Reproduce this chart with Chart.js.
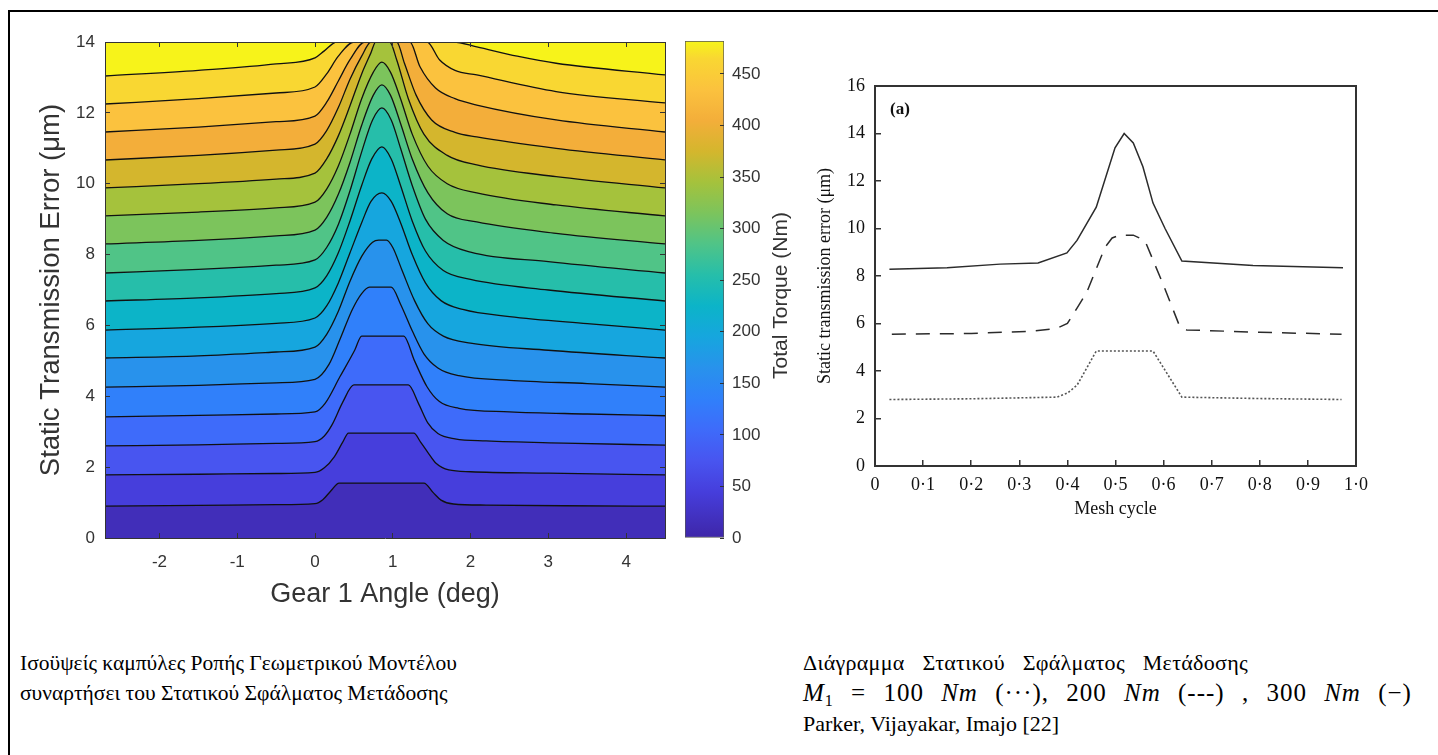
<!DOCTYPE html>
<html>
<head>
<meta charset="utf-8">
<script src="https://cdn.jsdelivr.net/npm/chart.js@4.4.1/dist/chart.umd.min.js"></script>
<style>
  body { margin: 0; background: #fff; }
  #page { position: relative; width: 1438px; height: 755px; overflow: hidden; background: #fff; }
  .frame { position: absolute; left: 8px; top: 10px; width: 1500px; height: 800px; border-top: 2px solid #000; border-left: 2px solid #000; }
  canvas { position: absolute; }
  .caption { position: absolute; font-family: "Liberation Serif", "Times New Roman", serif; font-size: 21.5px; line-height: 30px; color: #000; white-space: nowrap; }
  .caption .wide { word-spacing: 12px; letter-spacing: 0.3px; font-size: 22px; }
  .caption .math { word-spacing: 10px; letter-spacing: 1px; font-size: 25px; }
  .caption .ref { font-size: 22px; }
  .caption sub { font-size: 16px; line-height: 0; vertical-align: -5px; }
</style>
</head>
<body>
<div id="page">
  <div class="frame"></div>
  <canvas id="contour" width="680" height="620" style="left:0;top:0"></canvas>
  <canvas id="colorbar" width="120" height="620" style="left:680px;top:0"></canvas>
  <canvas id="profile" width="658" height="560" style="left:780px;top:0"></canvas>
  <div class="caption" style="left:20px;top:648px">Ισοϋψείς καμπύλες Ροπής Γεωμετρικού Μοντέλου<br>συναρτήσει του Στατικού Σφάλματος Μετάδοσης</div>
  <div class="caption" style="left:803px;top:648px"><span class="wide">Διάγραμμα Στατικού Σφάλματος Μετάδοσης</span><br><span class="math"><i>M</i><sub>1</sub> = 100 <i>Nm</i> (···), 200 <i>Nm</i> (---) , 300 <i>Nm</i> (−)</span><br><span class="ref">Parker, Vijayakar, Imajo [22]</span></div>
</div>
<script>
// ---- left plot: torque contours over gear angle (deg) / static TE (um) ----
const torqueLevels = [30, 60, 90, 120, 150, 180, 210, 240, 270, 300, 330, 360, 390, 420, 450, 480];
const torqueMax = 482;
const angleMin = -2.7;
const angleMax = 4.5;
const steMax = 14;

// each contour line as [angle, STE] points
const iso30 = [[-2.7,0.90],[-1.5,0.92],[-0.5,0.94],[0,0.97],[0.1,1.08],[0.2,1.32],[0.31,1.55],[1.40,1.55],[1.52,1.28],[1.62,1.07],[1.78,0.96],[2.2,0.93],[3.2,0.91],[4.5,0.90]];
const iso60 = [[-2.7,1.78],[-1.5,1.80],[-0.5,1.82],[0,1.85],[0.12,1.98],[0.25,2.3],[0.36,2.72],[0.43,2.96],[1.27,2.96],[1.36,2.7],[1.45,2.42],[1.56,2.1],[1.72,1.92],[2.0,1.87],[3.0,1.83],[4.5,1.78]];
const iso90 = [[-2.7,2.60],[-1.5,2.63],[-0.5,2.67],[0,2.72],[0.12,2.88],[0.22,3.2],[0.36,3.85],[0.5,4.32],[1.2,4.32],[1.33,3.8],[1.45,3.25],[1.58,2.95],[1.8,2.8],[2.2,2.74],[3.2,2.68],[4.5,2.62]];
const iso120 = [[-2.7,3.42],[-1.5,3.46],[-0.5,3.5],[0,3.56],[0.13,3.8],[0.32,4.55],[0.51,5.3],[0.6,5.7],[1.14,5.7],[1.28,5.0],[1.44,4.27],[1.6,3.85],[1.85,3.66],[2.5,3.56],[3.5,3.5],[4.5,3.45]];
const iso150 = [[-2.7,4.26],[-1.5,4.31],[-0.5,4.38],[0,4.48],[0.18,4.9],[0.32,5.6],[0.48,6.45],[0.6,6.9],[0.7,7.08],[0.98,7.08],[1.1,6.6],[1.25,5.85],[1.4,5.2],[1.58,4.8],[1.85,4.58],[2.5,4.45],[3.5,4.36],[4.5,4.26]];
const iso180 = [[-2.7,5.08],[-1.5,5.14],[-0.5,5.25],[0,5.39],[0.15,5.75],[0.3,6.4],[0.45,7.25],[0.6,7.95],[0.74,8.35],[0.82,8.41],[0.92,8.41],[1.0,8.2],[1.12,7.55],[1.28,6.7],[1.45,6.05],[1.65,5.7],[2.0,5.5],[3.0,5.3],[4.5,5.08]];
const iso210 = [[-2.7,5.87],[-1.5,5.95],[-0.5,6.06],[0,6.21],[0.15,6.55],[0.3,7.2],[0.45,8.05],[0.6,8.9],[0.72,9.5],[0.86,9.74],[0.98,9.5],[1.1,8.9],[1.25,8.0],[1.42,7.2],[1.62,6.7],[1.9,6.45],[2.5,6.25],[3.5,6.05],[4.5,5.87]];
const iso240 = [[-2.7,6.69],[-1.5,6.78],[-0.5,6.9],[0,7.06],[0.15,7.4],[0.3,8.05],[0.45,8.95],[0.6,9.95],[0.73,10.7],[0.86,11.04],[0.98,10.7],[1.1,9.95],[1.25,8.95],[1.42,8.1],[1.65,7.55],[2.0,7.3],[3.0,7.0],[4.5,6.69]];
const iso270 = [[-2.7,7.48],[-1.5,7.58],[-0.5,7.7],[0,7.85],[0.15,8.2],[0.3,8.85],[0.45,9.8],[0.6,10.9],[0.74,11.8],[0.86,12.14],[0.98,11.8],[1.1,11.0],[1.25,9.95],[1.42,9.0],[1.65,8.4],[2.0,8.07],[3.0,7.8],[4.5,7.48]];
const iso300 = [[-2.7,8.30],[-1.5,8.4],[-0.5,8.53],[0,8.69],[0.15,9.05],[0.3,9.7],[0.45,10.6],[0.6,11.65],[0.75,12.5],[0.86,12.79],[0.97,12.5],[1.1,11.7],[1.25,10.7],[1.45,9.75],[1.7,9.15],[2.08,8.92],[3.1,8.6],[4.5,8.30]];
const iso330 = [[-2.7,9.09],[-1.5,9.2],[-0.5,9.32],[0,9.48],[0.15,9.85],[0.3,10.5],[0.45,11.4],[0.6,12.4],[0.75,13.15],[0.86,13.43],[0.97,13.15],[1.1,12.4],[1.25,11.4],[1.45,10.5],[1.7,10.0],[2.08,9.74],[3.1,9.4],[4.5,9.09]];
const iso360 = [[-2.7,9.88],[-1.5,10.0],[-0.5,10.13],[0,10.3],[0.15,10.7],[0.3,11.35],[0.45,12.2],[0.6,13.1],[0.72,13.7],[0.78,14],[0.96,14],[1.05,13.5],[1.2,12.4],[1.4,11.4],[1.7,10.8],[2.08,10.53],[3.1,10.2],[4.5,9.88]];
const iso390 = [[-2.7,10.67],[-1.5,10.8],[-0.5,10.95],[0,11.12],[0.15,11.5],[0.3,12.15],[0.45,12.95],[0.6,13.6],[0.72,14],[1.05,14],[1.15,13.4],[1.3,12.5],[1.5,11.8],[1.8,11.45],[2.08,11.32],[3.1,11.0],[4.5,10.67]];
const iso420 = [[-2.7,11.46],[-1.5,11.6],[-0.5,11.75],[0,11.91],[0.15,12.3],[0.3,12.9],[0.45,13.5],[0.64,14],[1.22,14],[1.35,13.3],[1.55,12.7],[1.8,12.4],[2.08,12.22],[3.1,11.8],[4.5,11.46]];
const iso450 = [[-2.7,12.25],[-1.5,12.4],[-0.5,12.56],[0,12.73],[0.15,13.1],[0.3,13.6],[0.5,14],[1.44,14],[1.6,13.5],[1.8,13.2],[2.08,13.07],[3.1,12.6],[4.5,12.28]];
const iso480 = [[-2.7,13.04],[-1.5,13.2],[-0.5,13.38],[0,13.55],[0.12,13.75],[0.28,14],[1.78,14],[2.08,13.86],[2.6,13.6],[3.1,13.4],[4.5,13.07]];
const isoLines = [iso30, iso60, iso90, iso120, iso150, iso180, iso210, iso240, iso270, iso300, iso330, iso360, iso390, iso420, iso450, iso480];

// ---- right plot: Parker, Vijayakar, Imajo static TE over one mesh cycle ----
const meshCycle300 = [0.03, 0.15, 0.26, 0.339, 0.399, 0.42, 0.46, 0.499, 0.518, 0.537, 0.557, 0.578, 0.603, 0.638, 0.786, 0.973];
const ste300 = [8.28, 8.35, 8.5, 8.55, 8.97, 9.5, 10.9, 13.4, 14.0, 13.6, 12.6, 11.07, 10.0, 8.63, 8.44, 8.35];
const meshCycle200 = [0.035, 0.2, 0.33, 0.378, 0.4, 0.42, 0.44, 0.478, 0.493, 0.509, 0.537, 0.561, 0.6, 0.633, 0.648, 0.8, 0.97];
const ste200 = [5.55, 5.58, 5.68, 5.8, 6.0, 6.65, 7.3, 9.2, 9.6, 9.72, 9.72, 9.5, 7.6, 5.9, 5.73, 5.63, 5.55];
const meshCycle100 = [0.03, 0.2, 0.378, 0.4, 0.42, 0.46, 0.578, 0.638, 0.8, 0.97];
const ste100 = [2.80, 2.83, 2.9, 3.07, 3.4, 4.84, 4.84, 2.9, 2.84, 2.8];

// parula-like colour map stops, matched to the picture
const parula = [
    [0.000, 62, 38, 168],
    [0.093, 70, 62, 220],
    [0.156, 72, 85, 240],
    [0.218, 62, 107, 250],
    [0.280, 48, 128, 250],
    [0.342, 40, 146, 236],
    [0.405, 22, 166, 222],
    [0.467, 12, 180, 200],
    [0.529, 38, 190, 170],
    [0.592, 80, 196, 135],
    [0.654, 124, 196, 92],
    [0.716, 165, 194, 60],
    [0.778, 212, 182, 45],
    [0.840, 243, 174, 58],
    [0.900, 251, 193, 62],
    [0.965, 249, 215, 50],
    [1.000, 247, 245, 25]
];

function parulaColor(t) {
    t = Math.max(0, Math.min(1, t));
    for (let i = 1; i < parula.length; i++) {
        if (t <= parula[i][0]) {
            const a = parula[i - 1], b = parula[i];
            const f = (t - a[0]) / (b[0] - a[0]);
            const c = [1, 2, 3].map(k => Math.round(a[k] + (b[k] - a[k]) * f));
            return `rgb(${c[0]}, ${c[1]}, ${c[2]})`;
        }
    }
    return 'rgb(247, 245, 25)';
}

// band k sits between level k-1 and level k (band 0 at the bottom)
function bandColor(k) {
    const lower = k === 0 ? 0 : torqueLevels[k - 1];
    const upper = k < torqueLevels.length ? torqueLevels[k] : torqueMax;
    return parulaColor((lower + upper) / 2 / torqueMax);
}

const sansFont = '"Liberation Sans", Arial, Helvetica, sans-serif';
const serifFont = '"Liberation Serif", "Times New Roman", serif';
const matlabGray = '#333333';

// contour chart
const contourSets = isoLines.map((line, i) => ({
    data: line.map(p => ({ x: p[0], y: p[1] })),
    showLine: true,
    fill: 'start',
    backgroundColor: bandColor(i),
    borderColor: '#111111',
    borderWidth: 1.3,
    pointRadius: 0,
    cubicInterpolationMode: 'monotone'
}));
// yellow band above the last contour
contourSets.push({
    data: iso480.map(p => ({ x: p[0], y: p[1] })),
    showLine: true,
    fill: 'end',
    backgroundColor: bandColor(isoLines.length),
    borderWidth: 0,
    pointRadius: 0,
    cubicInterpolationMode: 'monotone'
});

function boxAxis(position, min, max, step) {
    return {
        type: 'linear', position: position, min: min, max: max,
        afterFit: s => { if (position === 'top') s.height = 0; else s.width = 0; },
        ticks: { display: false, stepSize: step, includeBounds: false },
        grid: { drawOnChartArea: false, tickLength: -5, color: matlabGray, z: 1 },
        border: { color: matlabGray, width: 1, z: 1 }
    };
}

new Chart(document.getElementById('contour'), {
    type: 'scatter',
    data: { datasets: contourSets },
    options: {
        responsive: false,
        animation: false,
        layout: { padding: { left: 0, top: 42, right: 15, bottom: 9 } },
        plugins: { legend: { display: false }, tooltip: { enabled: false } },
        scales: {
            x: {
                type: 'linear', min: angleMin, max: angleMax,
                afterFit: s => { s.height = 73; },
                ticks: { stepSize: 1, includeBounds: false, padding: 19, color: matlabGray, font: { family: sansFont, size: 17 } },
                grid: { drawOnChartArea: false, tickLength: -5, color: matlabGray, z: 1 },
                border: { color: matlabGray, width: 1, z: 1 },
                title: { display: true, text: 'Gear 1 Angle (deg)', color: matlabGray, font: { family: sansFont, size: 27 }, padding: { top: 0, bottom: 0 } }
            },
            y: {
                type: 'linear', min: 0, max: steMax,
                afterFit: s => { s.width = 105; },
                ticks: { stepSize: 2, padding: 15, color: matlabGray, font: { family: sansFont, size: 17 } },
                grid: { drawOnChartArea: false, tickLength: -5, color: matlabGray, z: 1 },
                border: { color: matlabGray, width: 1, z: 1 },
                title: { display: true, text: 'Static Transmission Error (μm)', color: matlabGray, font: { family: sansFont, size: 27.5 }, padding: { top: 35, bottom: 0 } }
            },
            x2: boxAxis('top', angleMin, angleMax, 1),
            y2: boxAxis('right', 0, steMax, 2)
        }
    }
});

// colour bar
function colorbarGradient(c) {
    const { ctx, chartArea } = c.chart;
    if (!chartArea) return parulaColor(0.5);
    const g = ctx.createLinearGradient(0, chartArea.bottom, 0, chartArea.top);
    parula.forEach(s => g.addColorStop(s[0], `rgb(${s[1]}, ${s[2]}, ${s[3]})`));
    return g;
}

const colorbarTitle = {
    id: 'colorbarTitle',
    afterDraw(chart) {
        const { ctx, chartArea } = chart;
        ctx.save();
        ctx.translate(101, (chartArea.top + chartArea.bottom) / 2 + 6);
        ctx.rotate(-Math.PI / 2);
        ctx.font = '21px ' + sansFont;
        ctx.fillStyle = matlabGray;
        ctx.textAlign = 'center';
        ctx.textBaseline = 'middle';
        ctx.fillText('Total Torque (Nm)', 0, 0);
        ctx.restore();
    }
};

new Chart(document.getElementById('colorbar'), {
    type: 'bar',
    data: {
        labels: ['Total Torque'],
        datasets: [{
            data: [[0, torqueMax]],
            backgroundColor: colorbarGradient,
            borderColor: '#555555',
            borderWidth: 1,
            borderSkipped: false,
            barPercentage: 1,
            categoryPercentage: 1
        }]
    },
    options: {
        responsive: false,
        animation: false,
        layout: { padding: { left: 5, top: 41, right: 0, bottom: 82 } },
        plugins: { legend: { display: false }, tooltip: { enabled: false } },
        scales: {
            x: { display: false },
            y: {
                position: 'right', min: 0, max: torqueMax,
                afterFit: s => { s.width = 76; },
                ticks: { stepSize: 50, includeBounds: false, padding: 12, color: matlabGray, font: { family: sansFont, size: 17 } },
                grid: { drawOnChartArea: false, tickLength: -4, color: matlabGray, z: 1 },
                border: { display: false }
            }
        }
    },
    plugins: [colorbarTitle]
});

// mesh cycle chart
const panelLabel = {
    id: 'panelLabel',
    afterDraw(chart) {
        const { ctx, chartArea } = chart;
        ctx.save();
        ctx.font = 'bold 17px ' + serifFont;
        ctx.fillStyle = '#111111';
        ctx.textAlign = 'left';
        ctx.textBaseline = 'middle';
        ctx.fillText('(a)', chartArea.left + 15, chartArea.top + 24);
        ctx.restore();
    }
};

function toPoints(xs, ys) {
    return xs.map((x, i) => ({ x: x, y: ys[i] }));
}

const inkGray = '#2b2b2b';
new Chart(document.getElementById('profile'), {
    type: 'scatter',
    data: {
        datasets: [
            { label: '300 Nm', data: toPoints(meshCycle300, ste300), showLine: true, borderColor: inkGray, borderWidth: 1.5, pointRadius: 0 },
            { label: '200 Nm', data: toPoints(meshCycle200, ste200), showLine: true, borderColor: inkGray, borderWidth: 1.5, borderDash: [14, 10], pointRadius: 0 },
            { label: '100 Nm', data: toPoints(meshCycle100, ste100), showLine: true, borderColor: '#555555', borderWidth: 1.6, borderDash: [2, 2], pointRadius: 0 }
        ]
    },
    options: {
        responsive: false,
        animation: false,
        layout: { padding: { left: 0, top: 86, right: 82, bottom: 24 } },
        plugins: { legend: { display: false }, tooltip: { enabled: false } },
        scales: {
            x: {
                type: 'linear', min: 0, max: 1,
                afterFit: s => { s.height = 70; },
                ticks: {
                    stepSize: 0.1, padding: 14, color: '#111111', font: { family: serifFont, size: 18 },
                    callback: v => v === 0 ? '0' : v.toFixed(1).replace('.', '\u00b7')
                },
                grid: { drawOnChartArea: false, tickLength: -6, color: matlabGray, lineWidth: 1.5 },
                border: { color: matlabGray, width: 2 },
                title: { display: true, text: 'Mesh cycle', color: '#111111', font: { family: serifFont, size: 18 }, padding: { top: 0, bottom: 16 } }
            },
            y: {
                type: 'linear', min: 0, max: 16,
                afterFit: s => { s.width = 95; },
                ticks: { stepSize: 2, padding: 16, color: '#111111', font: { family: serifFont, size: 18 } },
                grid: { drawOnChartArea: false, tickLength: -6, color: matlabGray, lineWidth: 1.5 },
                border: { color: matlabGray, width: 2 },
                title: { display: true, text: 'Static transmission error (μm)', color: '#111111', font: { family: serifFont, size: 18 }, padding: { top: 34, bottom: 0 } }
            },
            x2: {
                type: 'linear', position: 'top', min: 0, max: 1,
                afterFit: s => { s.height = 0; },
                ticks: { display: false }, grid: { display: false },
                border: { color: matlabGray, width: 2 }
            },
            y2: {
                type: 'linear', position: 'right', min: 0, max: 16,
                afterFit: s => { s.width = 0; },
                ticks: { display: false }, grid: { display: false },
                border: { color: matlabGray, width: 2 }
            }
        }
    },
    plugins: [panelLabel]
});
</script>
</body>
</html>
